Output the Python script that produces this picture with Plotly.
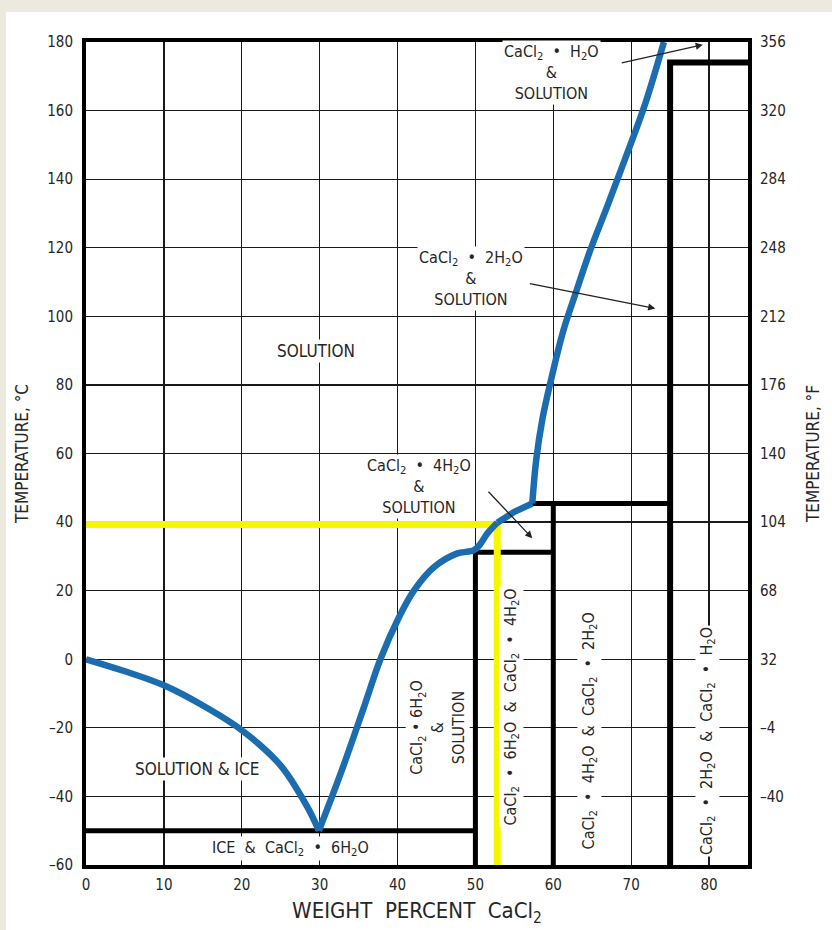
import plotly.graph_objects as go

# ---------------- data ----------------
# liquidus curve pieces (weight % CaCl2, temperature degC)
ice_x = [0, 5, 10, 15, 20, 25, 28.4, 29.9]
ice_t = [0, -3.5, -7.6, -13.5, -20.7, -31, -43, -50]

hexa_x = [29.9, 32.7, 35.7, 37.8, 40.2, 42.1, 44.7, 47.6, 49.8, 50.6, 51.5, 52.8]
hexa_t = [-50, -33.3, -13.9, 0, 12.3, 20, 26.9, 30.8, 31.8, 33.5, 36.6, 39.8]

tetra_x = [52.8, 55.0, 57.3]
tetra_t = [39.8, 43.0, 45.4]

di_x = [57.3, 57.8, 58.6, 59.6, 61.3, 63.0, 64.7, 67.0, 69.4, 71.8, 74.2]
di_t = [45.4, 58.0, 70.0, 80.4, 95.9, 107.6, 119.0, 132.5, 147.0, 162.0, 180]

# phase boundary lines
eutectic_x = [0, 50]
eutectic_t = [-50, -50]
hexa_bound_x = [50, 50, 60]
hexa_bound_t = [-60, 31.2, 31.2]
tetra_bound_x = [60, 60]
tetra_bound_t = [-60, 45.4]
tetra_top_x = [57.3, 75]
tetra_top_t = [45.4, 45.4]
di_bound_x = [75, 75, 85]
di_bound_t = [-60, 174, 174]

# highlighted example (yellow)
example_x = [0, 52.8, 52.8]
example_t = [39.3, 39.3, -60]

# axes
x_ticks = [0, 10, 20, 30, 40, 50, 60, 70, 80]
c_ticks = [180, 160, 140, 120, 100, 80, 60, 40, 20, 0, -20, -40, -60]
f_ticks = [356, 320, 284, 248, 212, 176, 140, 104, 68, 32, -4, -40]

FONT = "DejaVu Sans Condensed, Liberation Sans Narrow, Arial Narrow, sans-serif"
TXT = "#262626"
BLUE = "#1c6cb0"
BEIGE = "#ece9df"

fig = go.Figure()

def line(x, y, color, width, yaxis="y"):
    fig.add_trace(go.Scatter(x=x, y=y, mode="lines", yaxis=yaxis,
                             line=dict(color=color, width=width),
                             hoverinfo="skip", showlegend=False))

for bx, bt, w in [(eutectic_x, eutectic_t, 5), (hexa_bound_x, hexa_bound_t, 5),
                  (tetra_bound_x, tetra_bound_t, 5), (tetra_top_x, tetra_top_t, 5),
                  (di_bound_x, di_bound_t, 6)]:
    line(bx, bt, "black", w)

line(example_x, example_t, "#f6f600", 7)

for cx, ct, shp in [(ice_x, ice_t, "spline"), (hexa_x, hexa_t, "spline"),
                    (tetra_x, tetra_t, "linear"), (di_x, di_t, "spline")]:
    fig.add_trace(go.Scatter(x=cx, y=ct, mode="lines",
                             line=dict(color=BLUE, width=6.5, shape=shp, smoothing=1.0),
                             hoverinfo="skip", showlegend=False))

# invisible trace on secondary axis so it renders
fig.add_trace(go.Scatter(x=[0], y=[32], yaxis="y2", mode="markers",
                         marker=dict(opacity=0), hoverinfo="skip", showlegend=False))

ann = []
def label(x, y, text, size=16, angle=0, bg="white"):
    ann.append(dict(x=x, y=y, xref="x", yref="y", text=text, showarrow=False,
                    textangle=angle, font=dict(family=FONT, size=size, color=TXT),
                    bgcolor=bg, borderpad=1))

def arrow(x0, y0, x1, y1):
    ann.append(dict(x=x1, y=y1, ax=x0, ay=y0, xref="x", yref="y", axref="x", ayref="y",
                    text="", showarrow=True, arrowhead=2, arrowsize=1.1, arrowwidth=1.3,
                    arrowcolor="#222222"))

label(29.5, 90, "SOLUTION", size=17)
label(14.2, -32, "SOLUTION & ICE", size=17)
label(26.3, -55.3, "ICE  &  CaCl<sub>2</sub>  •  6H<sub>2</sub>O", size=16)
label(59.8, 171, "CaCl<sub>2</sub>  •  H<sub>2</sub>O<br>&<br>SOLUTION", size=16)
label(49.4, 111, "CaCl<sub>2</sub>  •  2H<sub>2</sub>O<br>&<br>SOLUTION", size=16)
label(42.8, 50.5, "CaCl<sub>2</sub>  •  4H<sub>2</sub>O<br>&<br>SOLUTION", size=16)
label(45.2, -20, "CaCl<sub>2</sub> • 6H<sub>2</sub>O<br>&<br>SOLUTION", size=16, angle=-90)
label(54.6, -14, "CaCl<sub>2</sub>  •  6H<sub>2</sub>O  &  CaCl<sub>2</sub>  •  4H<sub>2</sub>O", size=16, angle=-90)
label(64.6, -21, "CaCl<sub>2</sub>  •  4H<sub>2</sub>O  &  CaCl<sub>2</sub>  •  2H<sub>2</sub>O", size=16, angle=-90)
label(79.8, -24, "CaCl<sub>2</sub>  •  2H<sub>2</sub>O  &  CaCl<sub>2</sub>  •  H<sub>2</sub>O", size=16, angle=-90)

arrow(68.6, 173.8, 79.2, 179.2)
arrow(56.8, 109.6, 73.1, 102.3)
arrow(51.5, 49.3, 57.3, 35.3)

fig.update_layout(
    width=832, height=930,
    margin=dict(l=86, r=84, t=42, b=65, autoexpand=False),
    paper_bgcolor=BEIGE,
    plot_bgcolor="white",
    annotations=ann,
    xaxis=dict(range=[0, 85], tickvals=x_ticks, showgrid=True, gridcolor="#1a1a1a",
               gridwidth=1.3, zeroline=False, showline=True, linecolor="black",
               linewidth=4, mirror=True, ticks="outside", tickcolor="rgba(0,0,0,0)",
               ticklen=3, automargin=False,
               tickfont=dict(family=FONT, size=15, color=TXT),
               title=dict(text="WEIGHT  PERCENT  CaCl<sub>2</sub>", standoff=11,
                          font=dict(family=FONT, size=22, color=TXT))),
    yaxis=dict(range=[-60, 180], tickvals=c_ticks,
               ticktext=[str(v).replace("-", "\u2013") for v in c_ticks],
               showgrid=True, gridcolor="#1a1a1a", gridwidth=1.3, zeroline=False,
               showline=True, linecolor="black", linewidth=4, mirror=True,
               ticks="outside", tickcolor="rgba(0,0,0,0)", ticklen=6, automargin=False,
               tickfont=dict(family=FONT, size=15, color=TXT),
               title=dict(text="TEMPERATURE, °C", standoff=15,
                          font=dict(family=FONT, size=17, color=TXT))),
    yaxis2=dict(range=[-76, 356], tickvals=f_ticks,
                ticktext=[str(v).replace("-", "\u2013") for v in f_ticks],
                overlaying="y", side="right", showgrid=False, zeroline=False,
                ticks="outside", tickcolor="rgba(0,0,0,0)", ticklen=8, automargin=False,
                tickfont=dict(family=FONT, size=15, color=TXT),
                title=dict(text="TEMPERATURE, °F", standoff=22,
                           font=dict(family=FONT, size=17, color=TXT))),
    shapes=[dict(type="rect", xref="paper", yref="paper", x0=-0.1208, x1=1.13,
                 y0=-0.08, y1=1.0365, fillcolor="white", line=dict(width=0),
                 layer="below")],
)

fig.write_html(
    "out.html",
    config={"displayModeBar": False, "staticPlot": True},
    post_script=("document.body.style.margin='0';"
                 "document.body.style.overflow='hidden';"
                 "document.body.style.background='" + BEIGE + "';"),
)
